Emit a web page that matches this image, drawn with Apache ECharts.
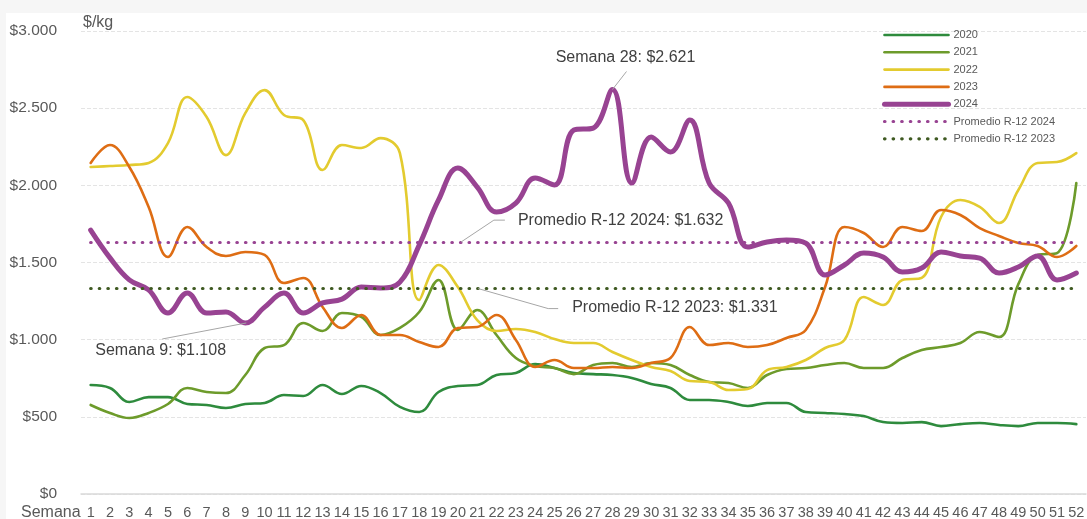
<!DOCTYPE html>
<html>
<head>
<meta charset="utf-8">
<script src="https://cdn.jsdelivr.net/npm/echarts@6/dist/echarts.min.js"></script>
<style>
  html, body { margin: 0; padding: 0; background: #f6f6f6; }
  #frame { position: absolute; left: 6px; top: 13px; width: 1081px; height: 506px; background: #ffffff; }
  #chart { position: absolute; left: 0; top: 0; width: 1087px; height: 519px; }
</style>
</head>
<body>
<div id="frame"></div>
<div id="chart"></div>
<script>
const weeks = ['1','2','3','4','5','6','7','8','9','10','11','12','13','14','15','16','17','18','19','20','21','22','23','24','25','26','27','28','29','30','31','32','33','34','35','36','37','38','39','40','41','42','43','44','45','46','47','48','49','50','51','52'];
const yTicks = [0, 500, 1000, 1500, 2000, 2500, 3000];

const s2020 = [706,687,596,628,628,583,577,557,583,590,641,635,706,648,700,654,564,531,661,700,706,771,784,842,816,784,777,771,752,713,687,609,609,596,570,590,590,531,525,518,505,466,460,466,440,453,460,447,440,460,460,453];
const s2021 = [577,525,492,525,583,687,661,654,771,946,965,1108,1056,1173,1147,1030,1076,1179,1387,1063,1192,1030,881,829,816,777,836,849,823,849,836,771,726,719,687,771,810,816,836,849,816,816,881,933,952,978,1050,1017,1360,1549,1561,2015];
const s2022 = [2119,2125,2132,2145,2274,2572,2443,2196,2468,2617,2456,2423,2099,2261,2242,2306,2209,1257,1484,1341,1127,1056,1069,1050,1004,978,978,920,868,823,797,732,726,674,680,803,823,868,946,998,1276,1225,1387,1400,1795,1905,1860,1756,1970,2145,2151,2209];
const s2023 = [2145,2261,2119,1860,1536,1730,1600,1542,1568,1549,1367,1400,1212,1076,1160,1030,1030,985,952,1076,1082,1160,998,823,868,816,816,823,816,849,881,1082,965,978,952,965,1011,1063,1341,1730,1691,1600,1730,1704,1840,1808,1723,1672,1626,1607,1536,1607];
const s2024 = [1710,1530,1387,1322,1173,1302,1173,1180,1108,1211,1302,1173,1238,1263,1341,1335,1373,1613,1905,2112,1989,1827,1885,2047,2002,2358,2371,2621,2015,2313,2216,2423,2015,1885,1600,1633,1646,1626,1419,1484,1561,1535,1438,1464,1568,1542,1529,1432,1471,1542,1387,1432];

const avg2024 = 1632;
const avg2023 = 1331;

const seriesNames = ['2020','2021','2022','2023','2024','Promedio R-12 2024','Promedio R-12 2023'];
const colors = ['#2e8b3d','#6d9b2b','#e3cb2f','#de6d14','#984392','#984392','#3f5a22'];

function fmtMoney(v) {
  return '$' + String(v).replace(/\B(?=(\d{3})+(?!\d))/g, '.');
}

const font = 'Liberation Sans, Arial, sans-serif';
const textColor = '#595959';
const dotted = [0.5, 8.1];
const widths = [2.6, 2.6, 2.6, 2.6, 5, 3.2, 3.2];

function lineSeries(name, data, color, width) {
  return {
    name: name, type: 'line', data: data, smooth: 0.4, symbol: 'none', showSymbol: false,
    lineStyle: { color: color, width: width, cap: 'round', join: 'round' },
    itemStyle: { color: color },
    emphasis: { disabled: true }
  };
}
function avgSeries(name, value, color) {
  return {
    name: name, type: 'line', data: [], symbol: 'none', showSymbol: false,
    lineStyle: { color: color, width: 3.2, type: dotted, cap: 'round' },
    itemStyle: { color: color },
    markLine: {
      silent: true, symbol: 'none', label: { show: false },
      lineStyle: { color: color, width: 3.2, type: dotted, cap: 'round' },
      emphasis: { disabled: true },
      data: [[{ coord: [0, value] }, { coord: [weeks.length - 1, value] }]]
    }
  };
}

const chart = echarts.init(document.getElementById('chart'), null, { renderer: 'canvas' });
const option = {
  animation: false,
  backgroundColor: 'transparent',
  color: colors,
  grid: { left: 81, right: 1, top: 31, bottom: 25, containLabel: false, outerBoundsMode: 'none' },
  legend: {
    orient: 'vertical', left: 877, top: 24,
    itemWidth: 64, itemHeight: 12, itemGap: 5.3,
    itemStyle: { opacity: 0 },
    textStyle: { fontFamily: font, fontSize: 11, color: textColor, lineHeight: 12 },
    data: seriesNames.map((n, i) => ({
      name: n,
      itemStyle: { opacity: 0 },
      lineStyle: { width: widths[i] }
    }))
  },
  xAxis: {
    type: 'category', data: weeks, boundaryGap: true,
    axisTick: { show: false },
    axisLine: { lineStyle: { color: '#d9d9d9', width: 1.5 } },
    axisLabel: { interval: 0, fontFamily: font, fontSize: 14.5, color: textColor, margin: 11 },
    splitLine: { show: false }
  },
  yAxis: {
    type: 'value', min: yTicks[0], max: yTicks[yTicks.length - 1], interval: 500,
    axisLine: { show: false }, axisTick: { show: false },
    axisLabel: { fontFamily: font, fontSize: 15.5, color: textColor, margin: 24, formatter: fmtMoney },
    splitLine: { lineStyle: { color: '#e4e4e4', width: 1, type: [4, 2] } }
  },
  series: [
    lineSeries('2020', s2020, colors[0], widths[0]),
    lineSeries('2021', s2021, colors[1], widths[1]),
    lineSeries('2022', s2022, colors[2], widths[2]),
    lineSeries('2023', s2023, colors[3], widths[3]),
    lineSeries('2024', s2024, colors[4], widths[4]),
    avgSeries('Promedio R-12 2024', avg2024, colors[5]),
    avgSeries('Promedio R-12 2023', avg2023, colors[6])
  ]
};
chart.setOption(option);

// Annotations anchored to data via the chart's own scales
const annotations = [
  { week: 28, value: s2024[27], text: 'Semana 28: ' + fmtMoney(s2024[27]), path: [[0,0],[14,-18]], textAt: [13,-32], align: 'center' },
  { week: 9, value: s2024[8], text: 'Semana 9: ' + fmtMoney(s2024[8]), path: [[1,0],[-83,16]], textAt: [-150,28], align: 'left' },
  { week: 20, value: avg2024, text: 'Promedio R-12 2024: ' + fmtMoney(avg2024), path: [[3,0],[36,-22],[47,-22]], textAt: [60,-22], align: 'left' },
  { week: 21, value: avg2023, text: 'Promedio R-12 2023: ' + fmtMoney(avg2023), path: [[1,0],[71,20],[81,20]], textAt: [95,19], align: 'left' }
];
const graphics = [];
annotations.forEach(a => {
  const p = chart.convertToPixel({ gridIndex: 0 }, [a.week - 1, a.value]);
  graphics.push({
    type: 'polyline', silent: true, z: 50,
    shape: { points: a.path.map(d => [p[0] + d[0], p[1] + d[1]]) },
    style: { stroke: '#a6a6a6', lineWidth: 1, fill: null }
  });
  graphics.push({
    type: 'text', silent: true, z: 50,
    x: p[0] + a.textAt[0], y: p[1] + a.textAt[1],
    style: { text: a.text, font: '16px ' + font, fill: '#404040', align: a.align, verticalAlign: 'middle' }
  });
});
graphics.push({
  type: 'text', silent: true, left: 83, top: 15,
  style: { text: '$/kg', font: '16px ' + font, fill: textColor }
});
graphics.push({
  type: 'text', silent: true, left: 21, top: 505,
  style: { text: 'Semana', font: '16px ' + font, fill: textColor }
});
chart.setOption({ graphic: graphics });
</script>
</body>
</html>
